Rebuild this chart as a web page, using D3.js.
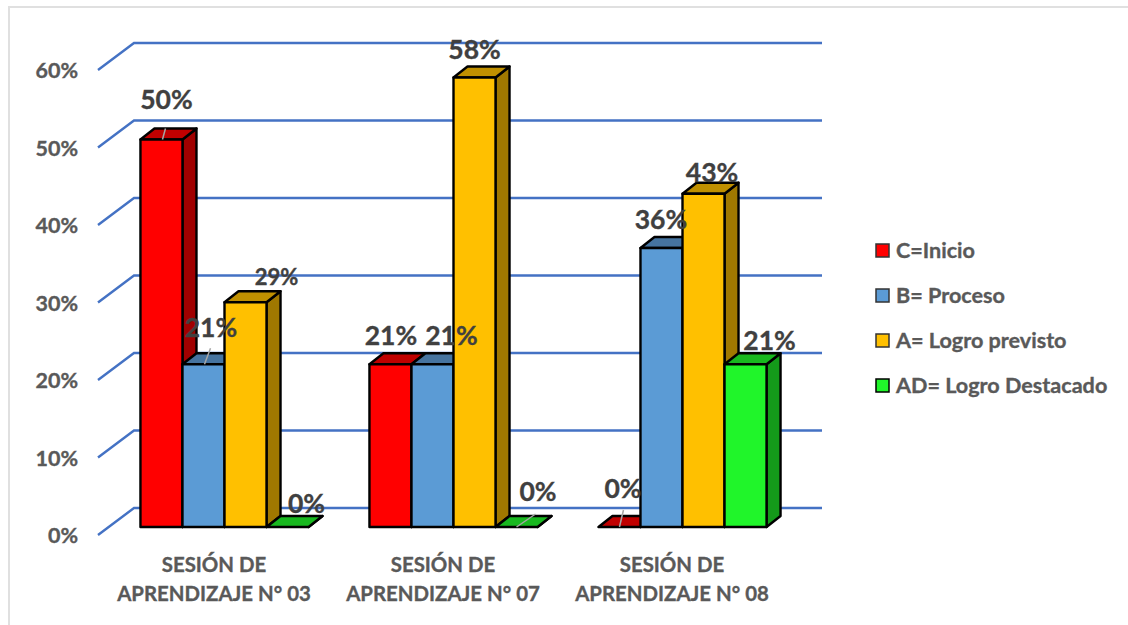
<!DOCTYPE html>
<html><head><meta charset="utf-8">
<script src="https://cdn.jsdelivr.net/npm/d3@7"></script>
<style>html,body{margin:0;padding:0;background:#fff}svg{display:block}text{font-family:Lato,"Open Sans",sans-serif;font-weight:700;stroke-width:.35px;paint-order:stroke}</style>
</head><body><svg width="1128" height="625"></svg>
<script>
const categories = [["SESIÓN DE","APRENDIZAJE N° 03"],["SESIÓN DE","APRENDIZAJE N° 07"],["SESIÓN DE","APRENDIZAJE N° 08"]];
const seriesNames = ["C=Inicio","B= Proceso","A= Logro previsto","AD= Logro Destacado"];
const inicio = [50,21,0];
const proceso = [21,21,36];
const previsto = [29,58,43];
const destacado = [0,0,21];
const yTicks = [0,10,20,30,40,50,60];
const seriesValues = [inicio,proceso,previsto,destacado];
const frontColors = ["#ff0000","#5b9bd5","#ffc000","#20f52a"];
const topColors = ["#c00000","#4674a0","#c09000","#18b81f"];
const sideColors = ["#a00000","#3d6690","#a07800","#149a1a"];
// label placement: dx from bar centre, dy from bar top, font size — [series][category]
const labelOffsets = [
 [[5,-39.5,26.5],[0.5,-29,26.5],[3.5,-38,26.5]],
 [[7.5,-37,26.5],[19,-29,26.5],[-0.5,-28,26.5]],
 [[31,-25,22],[0,-28,26.5],[8.5,-21,26.5]],
 [[19,-23,26.5],[21.5,-35,26.5],[24,-24,26.5]]
];
// leader lines: series, category, x1, y1, x2, y2 relative to bar centre / bar top
const leaders = [[0,0,1,0,4,-11],[1,0,1,0,7,-16],[0,2,0,0,4,-17],[3,1,0,0,19,-13]];
const svg = d3.select("svg");
const dx=14, dy=-11, W=822;
const y = d3.scaleLinear().domain([0,60]).range([527,62]);
const x0 = d3.scaleBand().domain(d3.range(3)).range([110,797]).paddingInner(.266).paddingOuter(.133);
const x1 = d3.scaleBand().domain(d3.range(4)).range([0,x0.bandwidth()]);
// frame
svg.append("path").attr("d","M9,625V7H1128").attr("fill","none").attr("stroke","#e0e0e0").attr("stroke-width",2);
// gridlines and tick labels
yTicks.forEach(t=>{
  const yy=y(t)+8, yb=yy-27;
  svg.append("path").attr("d",`M98,${yy}L134,${yb}H${W}`).attr("fill","none").attr("stroke","#4472c4").attr("stroke-width",2.4);
  svg.append("text").attr("x",78).attr("y",yy+0.7).attr("dy",".35em").attr("text-anchor","end").attr("font-size",21.5).attr("fill","#595959").attr("stroke","#595959").text(t+"%");
});
// bars: left to right, each one covering the side of the one before
categories.forEach((c,ci)=>{
  [0,1,2,3].forEach(si=>{
    const v=seriesValues[si][ci];
    const xl=x0(ci)+x1(si), w=x1.bandwidth(), yt=y(v), yb=y(0);
    const g=svg.append("g").attr("stroke","#000").attr("stroke-width",2.4).attr("stroke-linejoin","round");
    g.append("path").attr("d",`M${xl+w},${yb}L${xl+w+dx},${yb+dy}V${yt+dy}L${xl+w},${yt}Z`).attr("fill",sideColors[si]);
    g.append("path").attr("d",`M${xl},${yt}L${xl+dx},${yt+dy}H${xl+w+dx}L${xl+w},${yt}Z`).attr("fill",topColors[si]);
    g.append("rect").attr("x",xl).attr("y",yt).attr("width",w).attr("height",yb-yt).attr("fill",frontColors[si]);
  });
});
// leader lines
leaders.forEach(([si,ci,a,b,c,d])=>{
  const cx=x0(ci)+x1(si)+x1.bandwidth()/2, yt=y(seriesValues[si][ci]);
  svg.append("line").attr("x1",cx+a).attr("y1",yt+b).attr("x2",cx+c).attr("y2",yt+d).attr("stroke","#a6a6a6").attr("stroke-width",1.5);
});
// data labels
categories.forEach((c,ci)=>{
  seriesValues.forEach((vals,si)=>{
    const v=vals[ci], cx=x0(ci)+x1(si)+x1.bandwidth()/2, yt=y(v);
    const o=labelOffsets[si][ci];
    svg.append("text").attr("x",cx+o[0]).attr("y",yt+o[1]).attr("dy",".35em").attr("text-anchor","middle").attr("font-size",o[2]).attr("fill","#404040").attr("stroke","#404040").text(v+"%");
  });
});
// category labels
categories.forEach((c,ci)=>{
  c.forEach((ln,i)=>svg.append("text").attr("x",x0(ci)+x0.bandwidth()/2-10.5).attr("y",565+i*29).attr("dy",".35em").attr("text-anchor","middle").attr("font-size",20.4).attr("fill","#595959").attr("stroke","#595959").text(ln));
});
// legend
const ly=d3.scalePoint().domain(seriesNames).range([250.5,385.5]);
seriesNames.forEach((n,i)=>{
  svg.append("rect").attr("x",876).attr("y",ly(n)-6.5).attr("width",13).attr("height",13).attr("fill",frontColors[i]).attr("stroke",i==3?"#000":"#333").attr("stroke-width",1.5);
  svg.append("text").attr("x",896).attr("y",ly(n)).attr("dy",".35em").attr("font-size",21.6).attr("fill","#595959").attr("stroke","#595959").text(n);
});
</script></body></html>
